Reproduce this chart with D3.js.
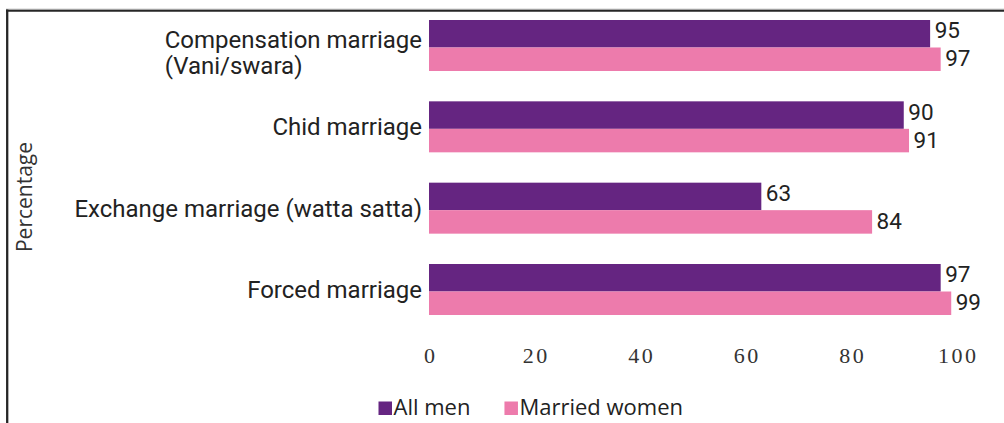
<!DOCTYPE html>
<html>
<head>
<meta charset="utf-8">
<script src="https://cdn.jsdelivr.net/npm/d3@7"></script>
<style>
  body { margin: 0; background: #fff; }
  svg { display: block; }
</style>
</head>
<body>
<div id="chart"></div>
<script>
// Data
const categories = ["Compensation marriage (Vani/swara)", "Chid marriage", "Exchange marriage (watta satta)", "Forced marriage"];
const categoryLines = [["Compensation marriage", "(Vani/swara)"], ["Chid marriage"], ["Exchange marriage (watta satta)"], ["Forced marriage"]];
const series = ["All men", "Married women"];
const allMen = [95, 90, 63, 97];
const marriedWomen = [97, 91, 84, 99];
const xTicks = [0, 20, 40, 60, 80, 100];
const yLabel = "Percentage";

const colors = {"All men": "#652581", "Married women": "#ED7BAC"};

const W = 1004, H = 423;

const svg = d3.select("#chart").append("svg")
    .attr("width", W)
    .attr("height", H);

// frame lines (top + left)
svg.append("line")
    .attr("x1", 6).attr("x2", W).attr("y1", 9.2).attr("y2", 9.2)
    .attr("stroke", "#b5b5b5").attr("stroke-width", 1);
svg.append("line")
    .attr("x1", 6).attr("x2", W).attr("y1", 10.7).attr("y2", 10.7)
    .attr("stroke", "#262626").attr("stroke-width", 2);
svg.append("line")
    .attr("x1", 7.2).attr("x2", 7.2).attr("y1", 9.5).attr("y2", H)
    .attr("stroke", "#262626").attr("stroke-width", 2.3);

// Scales
const xScale = d3.scaleLinear()
    .domain([0, 100])
    .range([429, 956.5]);

const yScale = d3.scaleBand()
    .domain(categories)
    .range([20, 315])
    .paddingInner(0.373)
    .paddingOuter(0);

const split = 27.5; // height of the first (purple) bar inside a band

const rows = categories.map((c, i) => ({
    cat: c,
    lines: categoryLines[i],
    values: [allMen[i], marriedWomen[i]]
}));

// Bars
const groups = svg.append("g").selectAll("g.row")
    .data(rows)
    .join("g")
    .attr("class", "row")
    .attr("transform", d => `translate(0,${yScale(d.cat)})`);

function barY(j) { return j === 0 ? 0 : split; }
function barH(j) { return j === 0 ? split : yScale.bandwidth() - split; }

groups.selectAll("rect")
    .data(d => d.values.map((v, j) => ({v, j, s: series[j]})))
    .join("rect")
    .attr("x", xScale(0))
    .attr("y", d => barY(d.j))
    .attr("width", d => xScale(d.v) - xScale(0))
    .attr("height", d => barH(d.j))
    .attr("fill", d => colors[d.s]);

// Value labels
groups.selectAll("text.val")
    .data(d => d.values.map((v, j) => ({v, j})))
    .join("text")
    .attr("class", "val")
    .attr("x", d => xScale(d.v) + 4.5)
    .attr("y", d => barY(d.j) + barH(d.j) / 2 + (d.j === 0 ? 4.5 : 7))
    .attr("font-family", "Roboto, sans-serif")
    .attr("font-size", 22.5)
    .attr("fill", "#222")
    .text(d => d.v);

// Category labels
groups.each(function(d) {
    const g = d3.select(this);
    const mid = yScale.bandwidth() / 2;
    const labelX = xScale(0) - 7;
    if (d.lines.length === 1) {
        g.append("text")
            .attr("x", labelX)
            .attr("y", mid + 8.5)
            .attr("text-anchor", "end")
            .attr("font-family", "Roboto, sans-serif")
            .attr("font-size", 24)
            .attr("fill", "#222")
            .text(d.lines[0]);
    } else {
        const first = g.append("text")
            .attr("x", labelX)
            .attr("y", mid + 2.5)
            .attr("text-anchor", "end")
            .attr("font-family", "Roboto, sans-serif")
            .attr("font-size", 24)
            .attr("fill", "#222")
            .text(d.lines[0]);
        const left = labelX - first.node().getComputedTextLength();
        g.append("text")
            .attr("x", left)
            .attr("y", mid + 28.5)
            .attr("font-family", "Roboto, sans-serif")
            .attr("font-size", 24)
            .attr("fill", "#222")
            .text(d.lines[1]);
    }
});

// X axis (labels only)
const xAxis = d3.axisBottom(xScale)
    .tickValues(xTicks)
    .tickSize(0)
    .tickPadding(0)
    .tickFormat(d3.format("d"));

const xAxisGroup = svg.append("g")
    .attr("class", "axis x-axis")
    .attr("transform", "translate(0,348)")
    .call(xAxis);

xAxisGroup.select(".domain").remove();
xAxisGroup.selectAll("text")
    .attr("font-family", "'Liberation Serif', serif")
    .attr("font-size", 22)
    .attr("letter-spacing", 2.4)
    .attr("fill", "#333")
    .attr("dy", "0.7em")
    .attr("dx", 1.2);

// Y axis title
svg.append("text")
    .attr("transform", "translate(32,197) rotate(-90)")
    .attr("text-anchor", "middle")
    .attr("font-family", "'Open Sans', sans-serif")
    .attr("font-size", 21)
    .attr("fill", "#333")
    .text(yLabel);

// Legend
const legend = svg.append("g").attr("class", "legend");
let lx = 378.5;
series.forEach(s => {
    legend.append("rect")
        .attr("x", lx)
        .attr("y", 401.5)
        .attr("width", 13.5)
        .attr("height", 13.5)
        .attr("fill", colors[s]);
    const t = legend.append("text")
        .attr("x", lx + 15)
        .attr("y", 415)
        .attr("font-family", "'Open Sans', sans-serif")
        .attr("font-size", 22)
        .attr("fill", "#222")
        .text(s);
    lx = lx + 15 + t.node().getComputedTextLength() + 34;
});
</script>
</body>
</html>
